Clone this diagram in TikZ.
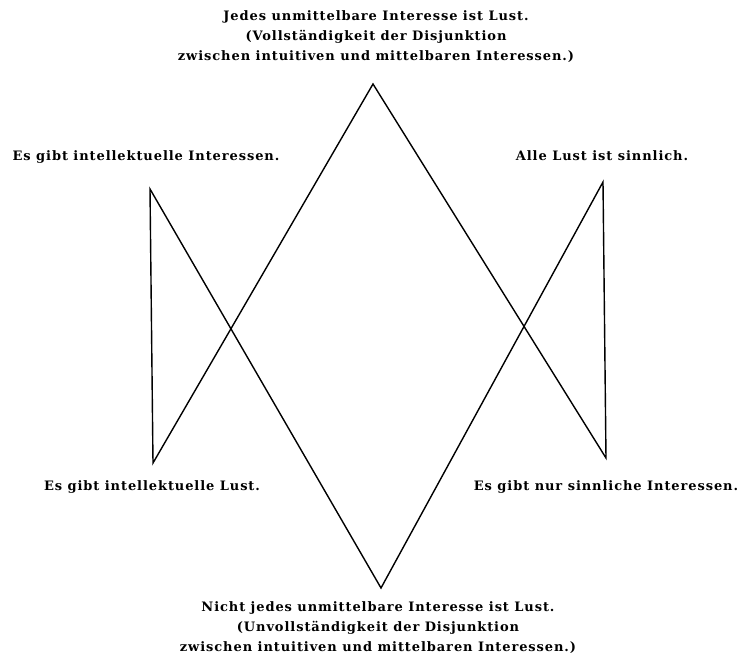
\documentclass[tikz,border=0pt]{standalone}
\usepackage{fontspec}
\setmainfont[LetterSpace=7]{DejaVu Serif}
\usepackage{tikz}

\begin{document}
\begin{tikzpicture}[x=1pt, y=-1pt, line width=1.4pt]
  \tikzset{satz/.style={font=\bfseries\fontsize{13}{20}\selectfont, align=center, inner sep=0pt}}
  \useasboundingbox (0,0) rectangle (748,659);

  % Corners of the figure
  \coordinate (oben) at (373, 84);
  \coordinate (unten) at (381, 588);
  \coordinate (lo) at (150, 189);
  \coordinate (lu) at (153, 463);
  \coordinate (ro) at (603, 182);
  \coordinate (ru) at (606, 458);

  % The two crossing triangles, drawn as one closed line
  \draw[line join=miter] (oben) -- (lu) -- (lo) -- (unten) -- (ro) -- (ru) -- cycle;

  % Sentences at the corners
  \node[satz] (tOben) at (376, 37) {Jedes unmittelbare Interesse ist Lust.\\
    (Vollständigkeit der Disjunktion\\
    zwischen intuitiven und mittelbaren Interessen.)};
  \node[satz] (tLo) at (146, 157) {Es gibt intellektuelle Interessen.};
  \node[satz] (tRo) at (602, 156) {Alle Lust ist sinnlich.};
  \node[satz] (tLu) at (152, 487) {Es gibt intellektuelle Lust.};
  \node[satz] (tRu) at (606, 487) {Es gibt nur sinnliche Interessen.};
  \node[satz] (tUnten) at (378, 628) {Nicht jedes unmittelbare Interesse ist Lust.\\
    (Unvollständigkeit der Disjunktion\\
    zwischen intuitiven und mittelbaren Interessen.)};
\end{tikzpicture}
\end{document}
